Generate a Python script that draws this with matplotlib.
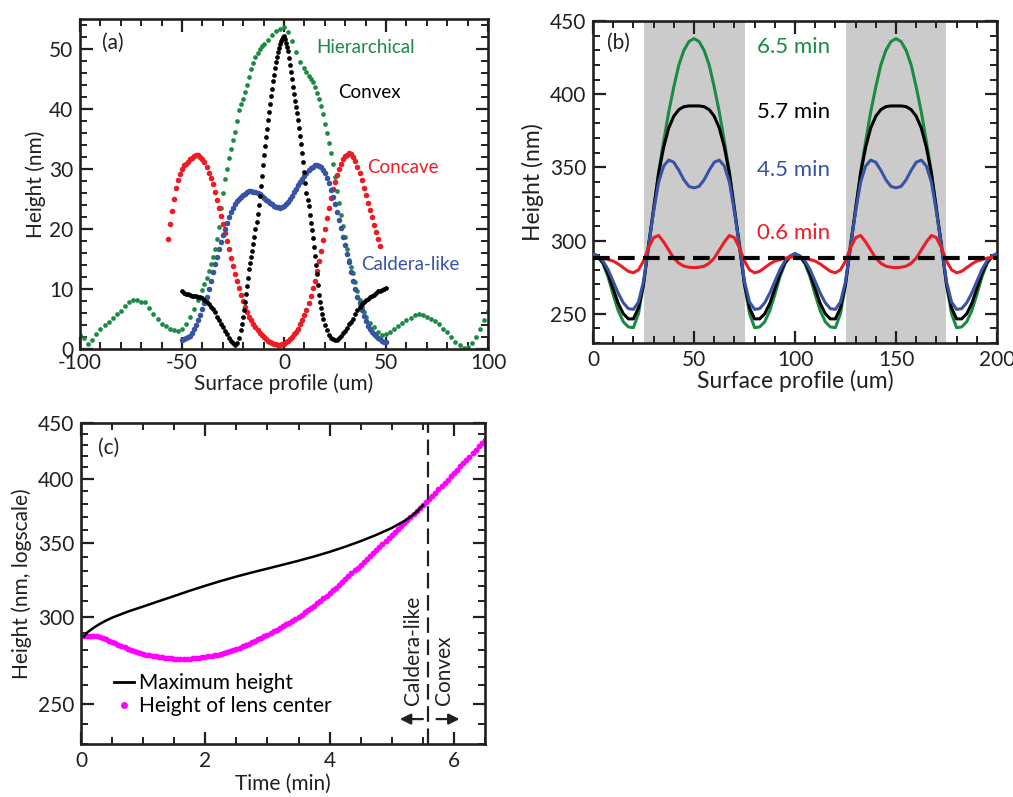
import matplotlib
matplotlib.use('Agg')
import matplotlib.pyplot as plt
from matplotlib.lines import Line2D
from matplotlib.ticker import MultipleLocator, NullFormatter

plt.rcParams['font.family'] = ['Lato', 'DejaVu Sans']
plt.rcParams['axes.unicode_minus'] = False

# ---- panel (a): measured surface profiles (um, nm)
x_hier = [-100, -98, -96, -94, -92, -90, -88, -86, -84, -82, -80, -78, -76, -74, -72, -70, -68, -66, -64, -62,
          -60, -58, -56, -54, -52, -50, -48, -46, -44, -42,
          -40, -39, -38, -37, -36, -35, -34, -33, -32, -31, -30, -29, -28, -27, -26, -25, -24, -23, -22, -21,
          -20, -19, -18, -17, -16, -15, -14, -13, -12, -11, -10, -8, -6, -4, -2, 0, 2, 4, 6, 8,
          10, 11, 12, 13, 14, 15, 16, 17, 18, 19, 20, 21, 22, 23, 24, 25, 26, 27, 28, 29,
          30, 31, 32, 33, 34, 35, 36, 37, 38, 39, 40, 42, 44, 46, 48, 50, 52, 54, 56, 58,
          60, 62, 64, 66, 68, 70, 72, 74, 76, 78, 80, 82, 84, 86, 88, 90, 92, 94, 96, 98, 100]
h_hier = [2.4, 1.8, 0.9, 1.5, 2.5, 3.3, 4.0, 4.5, 5.1, 5.8, 6.4, 7.2, 7.9, 8.2, 8.1, 7.9, 7.8, 6.9, 5.8, 5.0,
          4.2, 3.8, 3.4, 3.2, 3.0, 3.4, 4.2, 5.3, 6.6, 8.1,
          9.9, 10.9, 11.9, 13.0, 14.2, 15.4, 16.6, 18.3, 20.4, 23.5, 26.0, 28.4, 30.0, 31.8, 33.4, 34.8, 36.2, 38.0, 39.8, 40.8,
          41.7, 42.8, 44.0, 45.3, 46.6, 47.7, 48.6, 49.4, 50.0, 50.5, 50.9, 51.5, 52.3, 53.0, 53.3, 53.6, 52.8, 51.3, 49.5, 47.8,
          46.8, 46.2, 45.5, 45.0, 44.5, 43.7, 42.7, 41.7, 40.5, 39.1, 37.5, 36.0, 34.3, 32.6, 30.8, 28.6, 26.3, 24.3, 22.4, 20.5,
          18.6, 16.7, 14.9, 13.7, 12.6, 11.1, 9.6, 8.2, 7.0, 6.1, 5.4, 4.3, 3.6, 2.9, 2.4, 2.5, 2.9, 3.4, 3.8, 4.3,
          4.8, 5.2, 5.7, 5.9, 5.6, 5.4, 5.0, 4.6, 4.1, 3.4, 2.8, 2.0, 1.2, 0.6, 0.2, 0.4, 1.0, 2.0, 3.4, 4.9, 6.4]

x_convex = [-50, -49, -48, -47, -46, -45, -44, -43, -42, -41, -40, -39, -38, -37, -36, -35, -34, -33, -32, -31,
            -30, -29, -28, -27, -26, -25, -24, -23, -22,
            -21, -20.5, -20, -19.5, -19, -18.5, -18, -17.5, -17, -16.5, -16, -15.5, -15, -14.5, -14, -13.5, -13, -12.5, -12, -11.5,
            -11, -10.5, -10, -9.5, -9, -8.5, -8, -7.5, -7, -6.5, -6, -5.5, -5, -4.5, -4, -3.5, -3, -2.5, -2, -1.5,
            -1, -0.5, 0, 0.5, 1, 1.5, 2, 2.5, 3, 3.5, 4, 4.5, 5, 5.5, 6, 6.5, 7, 7.5, 8, 8.5,
            9, 9.5, 10, 10.5, 11, 11.5, 12, 12.5, 13, 13.5, 14, 14.5, 15, 15.5, 16, 16.5, 17, 17.5, 18, 18.5,
            19, 20, 21, 22, 23, 24, 25, 26, 27, 28, 29, 30, 31, 32, 33, 34, 35, 36, 37, 38,
            39, 40, 41, 42, 43, 44, 45, 46, 47, 48, 49, 50]
h_convex = [9.6, 9.4, 9.2, 9.1, 9.0, 8.9, 8.9, 8.8, 8.7, 8.6, 8.5, 8.2, 7.9, 7.5, 7.0, 6.6, 6.1, 5.4, 4.8, 4.2,
            3.6, 3.0, 2.5, 1.9, 1.4, 1.0, 0.6, 1.0, 1.8,
            3.2, 4.2, 5.3, 6.5, 7.8, 9.1, 10.5, 11.9, 13.3, 14.4, 15.4, 16.4, 17.5, 18.7, 20.0, 21.2, 22.5, 24.0, 25.5, 27.1,
            28.8, 30.6, 32.4, 33.9, 35.3, 36.7, 38.1, 39.5, 40.8, 42.1, 43.4, 44.6, 45.7, 46.8, 47.8, 48.7, 49.5, 50.2, 50.8, 51.3,
            51.7, 52.0, 52.2, 51.7, 51.0, 50.4, 49.6, 48.5, 47.3, 46.2, 45.0, 43.7, 42.5, 41.4, 40.3, 39.3, 38.2, 36.9, 35.5, 34.1,
            32.6, 31.1, 29.5, 27.7, 26.0, 24.9, 23.8, 22.4, 21.0, 19.8, 18.5, 17.0, 15.5, 14.0, 12.5, 10.7, 9.0, 7.9, 6.8, 5.9,
            5.0, 4.0, 3.1, 2.3, 1.9, 1.6, 1.5, 1.5, 1.8, 2.2, 2.6, 3.0, 3.5, 4.1, 4.5, 5.0, 5.8, 6.5, 7.0, 7.5,
            7.8, 8.1, 8.4, 8.6, 8.8, 9.0, 9.3, 9.6, 9.7, 9.9, 10.0, 10.1]

x_concave = [-57, -56, -55, -54, -53, -52, -51, -50, -49, -48, -47, -46, -45, -44, -43, -42, -41, -40, -39, -38,
             -37, -36, -35, -34, -33, -32, -31, -30, -29, -28, -27, -26, -25, -24, -23, -22, -21, -20, -19, -18,
             -17, -16, -15, -14, -13, -12, -11, -10, -9, -8, -7, -6, -5, -4, -3, -2, -1, 0, 1, 2,
             3, 4, 5, 6, 7, 8, 9, 10, 11, 12, 13, 14, 15, 16, 17, 18, 19, 20, 21, 22,
             23, 24, 25, 26, 27, 28, 29, 30, 31, 32, 33, 34, 35, 36, 37, 38, 39, 40, 41, 42,
             43, 44, 45, 46, 47]
h_concave = [18.4, 20.8, 23.0, 25.0, 26.8, 28.1, 29.2, 30.0, 30.6, 30.9, 31.2, 31.6, 31.9, 32.2, 32.3, 32.3, 32.0, 31.7, 31.2, 30.4,
             29.4, 28.5, 27.5, 26.2, 24.8, 23.5, 22.2, 20.8, 19.4, 18.0, 16.6, 15.2, 13.8, 12.5, 11.3, 10.1, 9.0, 8.0, 7.0, 6.2,
             5.4, 4.8, 4.2, 3.6, 3.1, 2.7, 2.3, 2.0, 1.7, 1.4, 1.2, 1.0, 0.9, 0.8, 0.7, 0.7, 0.8, 0.9, 1.1, 1.3,
             1.6, 2.0, 2.5, 2.9, 3.4, 4.1, 4.8, 5.6, 6.5, 7.6, 8.8, 10.1, 11.4, 13.0, 14.6, 16.4, 18.2, 20.0, 21.8, 23.5,
             25.2, 26.6, 27.8, 29.0, 30.0, 30.9, 31.6, 32.1, 32.4, 32.6, 32.5, 32.0, 31.4, 30.4, 29.3, 28.1, 26.8, 25.6, 24.4, 23.2,
             22.0, 20.7, 19.5, 18.3, 17.2]

x_caldera = [-50, -49, -48, -47, -46, -45, -44, -43, -42, -41, -40, -39, -38, -37, -36, -35, -34, -33, -32, -31,
             -30, -29, -28, -27, -26, -25, -24, -23, -22, -21, -20, -19, -18, -17, -16, -15, -14, -13, -12, -11,
             -10, -9, -8, -7, -6, -5, -4, -3, -2, -1, 0, 1, 2, 3, 4, 5, 6, 7, 8, 9,
             10, 11, 12, 13, 14, 15, 16, 17, 18, 19, 20, 21, 22, 23, 24, 25, 26, 27, 28, 29,
             30, 31, 32, 33, 34, 35, 36, 37, 38, 39, 40, 41, 42, 43, 44, 45, 46, 47, 48, 49, 50]
h_caldera = [1.5, 1.6, 1.8, 2.0, 2.2, 2.7, 3.3, 4.0, 4.8, 5.7, 6.6, 7.6, 8.6, 10.0, 11.4, 12.8, 14.1, 15.4, 16.7, 17.9,
             19.0, 20.0, 21.0, 22.0, 22.9, 23.5, 24.1, 24.6, 25.0, 25.3, 25.6, 25.9, 26.2, 26.3, 26.3, 26.2, 26.1, 26.0, 25.8, 25.5,
             25.2, 24.9, 24.6, 24.3, 24.1, 23.9, 23.7, 23.6, 23.5, 23.6, 23.8, 24.1, 24.5, 25.0, 25.5, 26.1, 26.7, 27.3, 27.9, 28.4,
             28.9, 29.4, 29.8, 30.1, 30.4, 30.6, 30.6, 30.5, 30.3, 29.9, 29.3, 28.5, 27.6, 26.5, 25.4, 24.1, 22.8, 21.5, 20.1, 18.7,
             17.3, 15.9, 14.5, 12.9, 11.4, 10.0, 8.7, 7.6, 6.5, 5.5, 4.6, 3.9, 3.3, 2.9, 2.5, 2.2, 1.9, 1.6, 1.4, 1.2, 1.1]

# ---- panel (b): simulated profiles over one 100 um period (x = 0, 2.5, ..., 100)
x_period = [0, 2.5, 5, 7.5, 10, 12.5, 15, 17.5, 20, 22.5, 25, 27.5, 30, 32.5, 35, 37.5, 40, 42.5, 45, 47.5,
            50, 52.5, 55, 57.5, 60, 62.5, 65, 67.5, 70, 72.5, 75, 77.5, 80, 82.5, 85, 87.5, 90, 92.5, 95, 97.5, 100]
p_65 = [291, 289, 284, 275, 263, 252, 244.5, 241, 240.5, 250, 270, 298, 320, 347, 368, 388, 405, 420, 430, 436,
        438, 436, 430, 420, 405, 388, 368, 347, 320, 298, 270, 250, 240.5, 241, 244.5, 252, 263, 275, 284, 289, 291]
p_57 = [291, 289, 285, 277, 267, 257, 250, 246.5, 246.5, 254, 270, 296, 322, 346, 364, 377, 385, 389.5, 391.5, 392,
        392, 392, 391.5, 389.5, 385, 377, 364, 346, 322, 296, 270, 254, 246.5, 246.5, 250, 257, 267, 277, 285, 289, 291]
p_45 = [291, 289.5, 286, 280, 272, 264, 257.5, 253.5, 253, 258, 272, 296, 320, 340, 351, 355, 353.5, 348, 341.5, 337,
        336, 337, 341.5, 348, 353.5, 355, 351, 340, 320, 296, 272, 258, 253, 253.5, 257.5, 264, 272, 280, 286, 289.5, 291]
p_06 = [289, 288.5, 288, 287, 286, 284, 281.5, 279, 278, 280, 286, 295, 302, 303.5, 299, 293.5, 288, 284.5, 282.5, 281.8,
        281.5, 281.8, 282.5, 284.5, 288, 293.5, 299, 303.5, 302, 295, 286, 280, 278, 279, 281.5, 284, 286, 287, 288, 288.5, 289]
h_initial = 288
shade_spans = [(25, 75), (125, 175)]

# ---- panel (c): heights vs time
t_max = [0.05, 0.1, 0.2, 0.3, 0.4, 0.5, 0.75, 1.0, 1.25, 1.5, 1.75, 2.0, 2.25, 2.5, 2.75, 3.0, 3.25, 3.5, 3.75, 4.0,
         4.25, 4.5, 4.75, 5.0, 5.2, 5.3, 5.4, 5.5]
h_max = [288.0, 290.4, 293.2, 295.6, 297.7, 299.5, 303.3, 306.6, 310.0, 313.4, 316.9, 320.2, 323.4, 326.4, 329.2, 331.9, 334.6, 337.4, 340.4, 343.7,
         347.4, 351.5, 356.1, 361.3, 366.6, 369.8, 373.7, 378.8]
t_center = [0.00, 0.05, 0.10, 0.15, 0.20, 0.25, 0.30, 0.35, 0.40, 0.45, 0.50, 0.55, 0.60, 0.65, 0.70, 0.75, 0.80, 0.85, 0.90, 0.95,
            1.00, 1.05, 1.10, 1.15, 1.20, 1.25, 1.30, 1.35, 1.40, 1.45, 1.50, 1.55, 1.60, 1.65, 1.70, 1.75, 1.80, 1.85, 1.90, 1.95,
            2.00, 2.05, 2.10, 2.15, 2.20, 2.25, 2.30, 2.35, 2.40, 2.45, 2.50, 2.55, 2.60, 2.65, 2.70, 2.75, 2.80, 2.85, 2.90, 2.95,
            3.00, 3.05, 3.10, 3.15, 3.20, 3.25, 3.30, 3.35, 3.40, 3.45, 3.50, 3.55, 3.60, 3.65, 3.70, 3.75, 3.80, 3.85, 3.90, 3.95,
            4.00, 4.05, 4.10, 4.15, 4.20, 4.25, 4.30, 4.35, 4.40, 4.45, 4.50, 4.55, 4.60, 4.65, 4.70, 4.75, 4.80, 4.85, 4.90, 4.95,
            5.00, 5.05, 5.10, 5.15, 5.20, 5.25, 5.30, 5.35, 5.40, 5.45, 5.50, 5.55, 5.60, 5.65, 5.70, 5.75, 5.80, 5.85, 5.90, 5.95,
            6.00, 6.05, 6.10, 6.15, 6.20, 6.25, 6.30, 6.35, 6.40, 6.45, 6.50]
h_center = [288.0, 288.2, 288.4, 288.5, 288.4, 288.1, 287.6, 287.0, 286.3, 285.5, 284.7, 283.9, 283.1, 282.3, 281.5, 280.8, 280.1, 279.5, 278.9, 278.3,
            277.8, 277.3, 276.9, 276.5, 276.2, 275.9, 275.6, 275.4, 275.2, 275.1, 275.0, 274.9, 274.9, 274.9, 274.9, 275.0, 275.1, 275.2, 275.4, 275.6,
            275.9, 276.2, 276.5, 276.9, 277.3, 277.8, 278.3, 278.8, 279.4, 280.0, 280.7, 281.4, 282.1, 282.9, 283.7, 284.5, 285.4, 286.3, 287.2, 288.1,
            289.1, 290.0, 291.0, 292.0, 293.1, 294.2, 295.3, 296.5, 297.7, 298.9, 300.2, 301.5, 302.9, 304.3, 305.7, 307.2, 308.7, 310.3, 311.9, 313.6,
            315.3, 317.1, 318.9, 320.8, 322.7, 324.6, 326.6, 328.6, 330.6, 332.6, 334.6, 336.6, 338.7, 340.8, 342.9, 345.0, 347.1, 349.3, 351.5, 353.7,
            355.9, 358.1, 360.3, 362.5, 364.8, 367.1, 369.4, 371.7, 374.0, 376.4, 378.8, 381.3, 383.8, 386.4, 389.0, 391.6, 394.3, 397.0, 399.7, 402.5,
            405.3, 408.1, 410.9, 413.7, 416.6, 419.5, 422.4, 425.4, 428.4, 431.4, 434.5]
t_transition = 5.58

GREEN = '#1b8a42'
RED = '#ed1c24'
BLUE = '#3953a4'
MAGENTA = '#ff00ff'
TXT = '#231f20'

def style_axes(ax):
    ax.tick_params(which='both', direction='in', top=True, right=True, colors=TXT, labelsize=15)
    ax.tick_params(which='major', length=9, width=1.6, pad=5)
    ax.tick_params(which='minor', length=5, width=1.4)
    for s in ax.spines.values():
        s.set_linewidth(1.9)
        s.set_color(TXT)

fig = plt.figure(figsize=(10.13, 7.97), dpi=100)
ax_a = fig.add_axes([0.079, 0.5621, 0.4028, 0.4141])
ax_b = fig.add_axes([0.5854, 0.5696, 0.3988, 0.4040])
ax_c = fig.add_axes([0.080, 0.0665, 0.3988, 0.4028])

# (a)
ax_a.plot(x_hier, h_hier, 'o', color=GREEN, ms=3.4, mew=0)
ax_a.plot(x_concave, h_concave, 'o', color=RED, ms=4.0, mew=0)
ax_a.plot(x_caldera, h_caldera, 'o', color=BLUE, ms=4.0, mew=0)
ax_a.plot(x_convex, h_convex, 'o', color='black', ms=3.4, mew=0)
ax_a.set_xlim(-100, 100)
ax_a.set_ylim(0, 55)
ax_a.xaxis.set_major_locator(MultipleLocator(50))
ax_a.xaxis.set_minor_locator(MultipleLocator(10))
ax_a.yaxis.set_major_locator(MultipleLocator(10))
ax_a.yaxis.set_minor_locator(MultipleLocator(2))
style_axes(ax_a)
ax_a.tick_params(axis='x', which='major', pad=3)
ax_a.set_xlabel('Surface profile (um)', fontsize=15, color=TXT, labelpad=0)
ax_a.set_ylabel('Height (nm)', fontsize=15, color=TXT, labelpad=2)
ax_a.text(-89, 51, '(a)', fontsize=15, color=TXT, va='center')
ax_a.text(16, 50.3, 'Hierarchical', fontsize=13.5, color=GREEN, va='center')
ax_a.text(26.5, 42.7, 'Convex', fontsize=13.5, color='black', va='center')
ax_a.text(40.5, 30.2, 'Concave', fontsize=13.5, color=RED, va='center')
ax_a.text(38, 14, 'Caldera-like', fontsize=13.5, color=BLUE, va='center')

# (b) two periods of the simulated profile
x_b = x_period + [100 + v for v in x_period[1:]]
for p, c in [(p_65, GREEN), (p_57, 'black'), (p_45, BLUE), (p_06, RED)]:
    ax_b.plot(x_b, p + p[1:], color=c, lw=2.2, zorder=3)
for lo, hi in shade_spans:
    ax_b.axvspan(lo, hi, color='#cbcbcb', lw=0, zorder=1)
ax_b.axhline(h_initial, color='black', lw=3, ls=(0, (4, 2)), zorder=4)
ax_b.set_xlim(0, 200)
ax_b.set_ylim(230, 450)
ax_b.xaxis.set_major_locator(MultipleLocator(50))
ax_b.xaxis.set_minor_locator(MultipleLocator(10))
ax_b.yaxis.set_major_locator(MultipleLocator(50))
ax_b.yaxis.set_minor_locator(MultipleLocator(10))
style_axes(ax_b)
ax_b.set_xlabel('Surface profile (um)', fontsize=16.5, color=TXT, labelpad=0)
ax_b.set_ylabel('Height (nm)', fontsize=16.5, color=TXT, labelpad=4)
ax_b.text(7, 435, '(b)', fontsize=15, color=TXT, va='center', zorder=5)
for lab, yv, c in [('6.5 min', 432, GREEN), ('5.7 min', 388, 'black'),
                   ('4.5 min', 348, BLUE), ('0.6 min', 305.5, RED)]:
    ax_b.text(81, yv, lab, fontsize=16, color=c, va='center', zorder=5)

# (c)
ax_c.plot(t_max, h_max, color='black', lw=1.8, zorder=3)
ax_c.plot(t_center, h_center, 'o', color=MAGENTA, ms=4.2, mew=0, zorder=2)
ax_c.axvline(t_transition, color=TXT, lw=1.6, ls=(0, (7, 3)), zorder=4)
ax_c.set_yscale('log')
ax_c.set_xlim(0, 6.5)
ax_c.set_ylim(230, 450)
ax_c.set_yticks([250, 300, 350, 400, 450])
ax_c.set_yticklabels(['250', '300', '350', '400', '450'])
ax_c.set_yticks(list(range(230, 451, 10)), minor=True)
ax_c.yaxis.set_minor_formatter(NullFormatter())
ax_c.xaxis.set_major_locator(MultipleLocator(2))
ax_c.xaxis.set_minor_locator(MultipleLocator(0.5))
style_axes(ax_c)
ax_c.set_xlabel('Time (min)', fontsize=15, color=TXT, labelpad=2)
ax_c.set_ylabel('Height (nm, logscale)', fontsize=15, color=TXT, labelpad=4)
ax_c.text(0.27, 427, '(c)', fontsize=15, color=TXT, va='center')
ax_c.text(5.34, 249.5, 'Caldera-like', fontsize=15, color=TXT, rotation=90, ha='center', va='bottom')
ax_c.text(5.84, 249.5, 'Convex', fontsize=15, color=TXT, rotation=90, ha='center', va='bottom')
ax_c.annotate('', xy=(5.13, 242.3), xytext=(5.5, 242.3),
              arrowprops=dict(arrowstyle='-|>', color=TXT, lw=1.6, mutation_scale=16, shrinkA=0, shrinkB=0))
ax_c.annotate('', xy=(6.09, 242.3), xytext=(5.72, 242.3),
              arrowprops=dict(arrowstyle='-|>', color=TXT, lw=1.6, mutation_scale=16, shrinkA=0, shrinkB=0))
handles = [Line2D([], [], color='black', lw=2),
           Line2D([], [], ls='', marker='o', color=MAGENTA, ms=5, mew=0)]
ax_c.legend(handles, ['Maximum height', 'Height of lens center'], loc='lower left',
            bbox_to_anchor=(0.06, 0.06), frameon=False, fontsize=15, handlelength=1.0,
            handletextpad=0.2, labelspacing=0.15, borderaxespad=0)

fig.savefig('out.png', dpi=100)
